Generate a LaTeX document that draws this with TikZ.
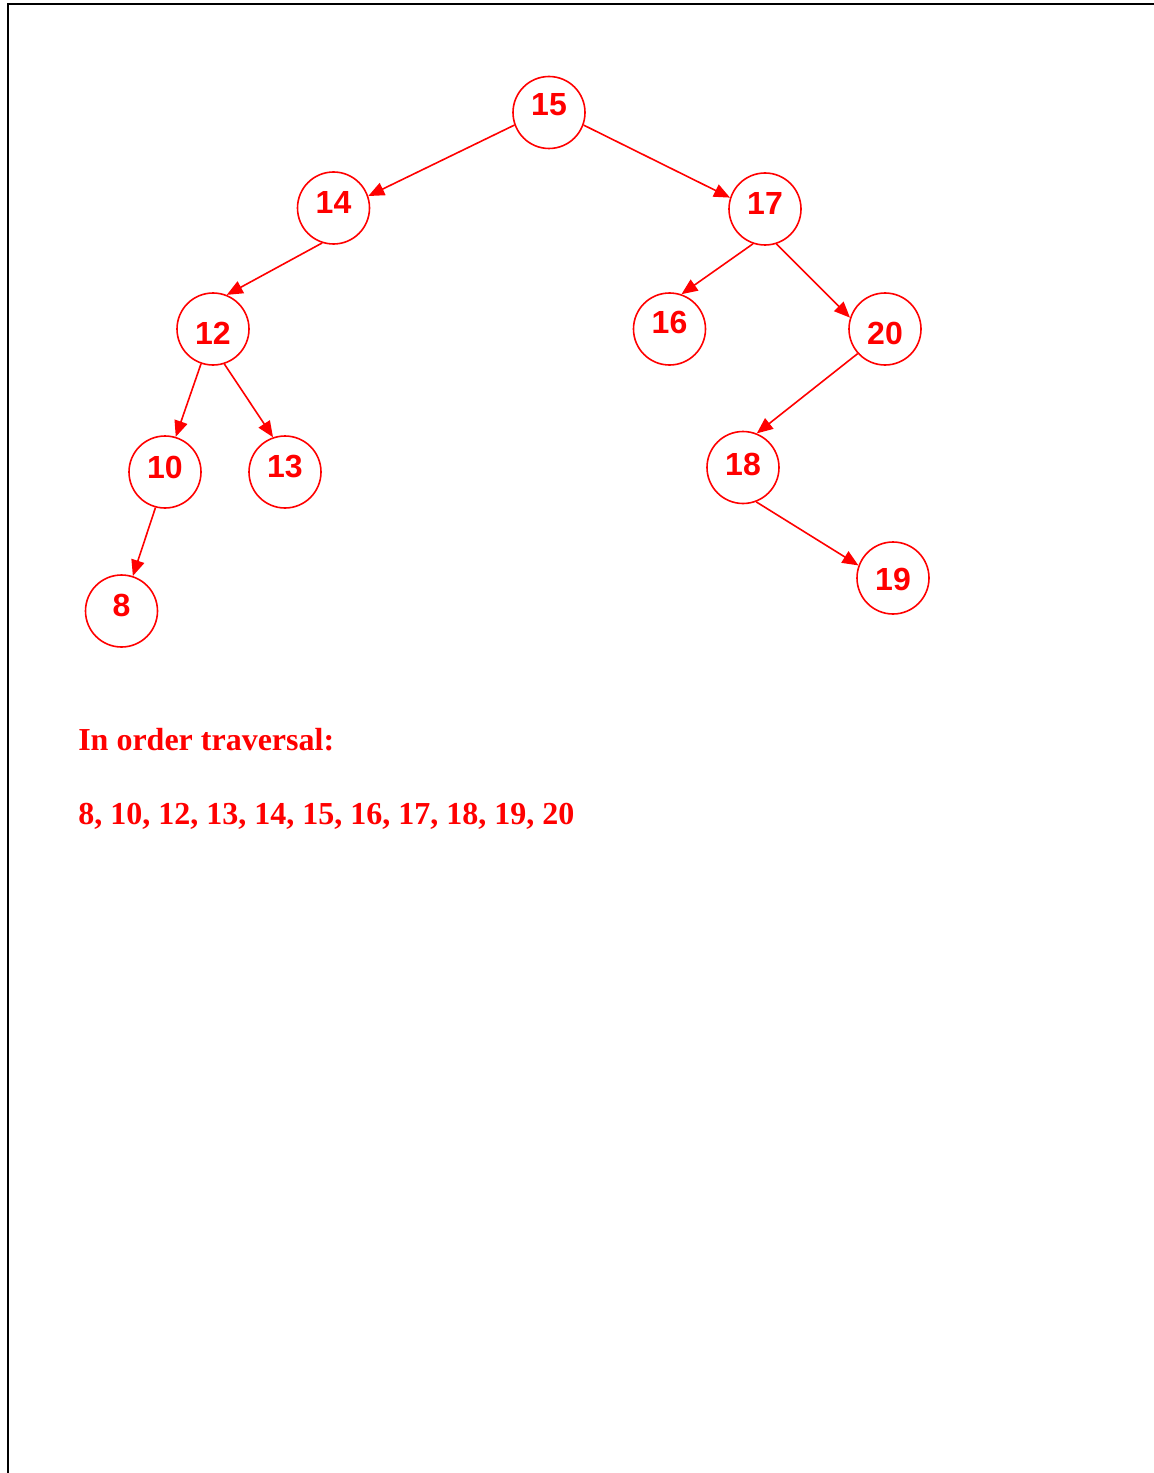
\documentclass[tikz,border=0pt]{standalone}
\usepackage{fontspec}
\setmainfont{Liberation Serif}
\newfontfamily\nodefont{Liberation Sans}
\usetikzlibrary{arrows.meta}
\definecolor{tred}{RGB}{255,0,0}
\tikzset{
  treenode/.style={circle, draw=tred, line width=1.2pt, minimum size=54pt, inner sep=0pt},
  lbl/.style={text=tred, font=\nodefont\fontsize{24}{28}\selectfont\bfseries, inner sep=0pt},
  edge/.style={draw=tred, line width=1.2pt, -{Triangle[length=12pt,width=10pt]}},
  body/.style={text=tred, font=\fontsize{24}{28}\selectfont\bfseries, inner sep=0pt, anchor=base west},
  frame/.style={draw=black, line width=1.5pt}
}
\begin{document}
\begin{tikzpicture}[x=0.75pt, y=-0.75pt]
\useasboundingbox (0,0) rectangle (1153,1473);
\coordinate (fb) at (7.5,1480);
\coordinate (fc) at (7.5,4.2);
\coordinate (fr) at (1160,4.2);
\draw[frame] (fb) -- (fc) -- (fr);

\node[treenode, label={[lbl,yshift=5.6pt]center:15}] (n15) at (549,112.5) {};
\node[treenode, label={[lbl,yshift=4.5pt]center:14}] (n14) at (333.5,208) {};
\node[treenode, label={[lbl,yshift=4.5pt]center:17}] (n17) at (765,209) {};
\node[treenode, label={[lbl,yshift=-3pt]center:12}] (n12) at (213,329) {};
\node[treenode, label={[lbl,yshift=5.25pt]center:16}] (n16) at (669.5,329) {};
\node[treenode, label={[lbl,yshift=-3pt]center:20}] (n20) at (885,329) {};
\node[treenode, label={[lbl,yshift=3.75pt]center:10}] (n10) at (165,472) {};
\node[treenode, label={[lbl,yshift=3.75pt]center:13}] (n13) at (285,472) {};
\node[treenode, label={[lbl,yshift=1.9pt]center:18}] (n18) at (743,467.5) {};
\node[treenode, label={[lbl,yshift=-0.75pt]center:19}] (n19) at (893,578) {};
\node[treenode, label={[lbl,yshift=4.5pt]center:8}] (n8) at (121.5,611) {};

\draw[edge] (n15.200.6) -- (n14.19.6);
\draw[edge] (n15.340.9) -- (n17.162);
\draw[edge] (n14.252.7) -- (n12.68.7);
\draw[edge] (n17.251.6) -- (n16.71.3);
\draw[edge] (n17.288.4) -- (n20.162);
\draw[edge] (n12.251.6) -- (n10.73.4);
\draw[edge] (n12.288.4) -- (n13.109.9);
\draw[edge] (n10.255.5) -- (n8.72.3);
\draw[edge] (n20.222.9) -- (n18.68);
\draw[edge] (n18.291.5) -- (n19.160.1);

\node[body] (t1) at (78,750) {In order traversal:};
\node[body] (t2) at (78,824) {8, 10, 12, 13, 14, 15, 16, 17, 18, 19, 20};
\end{tikzpicture}
\end{document}
